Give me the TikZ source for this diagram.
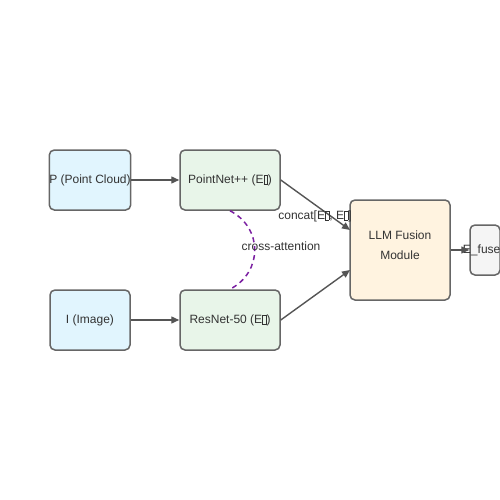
\documentclass[tikz,border=0pt]{standalone}
\usepackage{fontspec}
\setmainfont{Liberation Sans}
\usetikzlibrary{arrows.meta}
\definecolor{bordergray}{HTML}{666666}
\definecolor{arrowgray}{HTML}{555555}
\definecolor{txtgray}{HTML}{333333}
\definecolor{fillblue}{HTML}{E1F5FE}
\definecolor{fillgreen}{HTML}{E8F5E9}
\definecolor{fillorange}{HTML}{FFF3E0}
\definecolor{fillgray}{HTML}{F5F5F5}
\definecolor{attpurple}{HTML}{7B1FA2}
\newcommand\tofubox{{\setlength\fboxsep{0pt}\setlength\fboxrule{0.4pt}\raisebox{-0.5pt}{\fbox{\rule{3.5pt}{0pt}\rule{0pt}{8.5pt}}}}}
\begin{document}
\begin{tikzpicture}[x=1pt,y=1pt,
  box/.style={draw=bordergray, line width=1.5pt, rounded corners=5pt, text=txtgray, font=\fontsize{12}{15}\selectfont, inner sep=0pt, align=center},
  conn/.style={draw=arrowgray, line width=1.4pt, -{Triangle[length=8pt,width=7pt]}},
  lbl/.style={text=txtgray, font=\fontsize{12}{15}\selectfont, inner sep=0pt, align=center}
]
\useasboundingbox (0,0) rectangle (500,-500);
\fill[white] (0,0) rectangle (500,-500);
\node[box, fill=fillblue, minimum width=80pt, minimum height=60pt] (P) at (90,-180) {P (Point Cloud)};
\node[box, fill=fillgreen, minimum width=100pt, minimum height=60pt] (PN) at (230,-180) {PointNet++ (E\tofubox)};
\node[box, fill=fillblue, minimum width=80pt, minimum height=60pt] (I) at (90,-320) {I (Image)};
\node[box, fill=fillgreen, minimum width=100pt, minimum height=60pt] (RN) at (230,-320) {ResNet-50 (E\tofubox)};
\node[box, fill=fillorange, minimum width=100pt, minimum height=100pt] (LLM) at (400,-250) {};
\node[lbl, font=\fontsize{12}{20}\selectfont] (LLMt) at (400,-245.5) {LLM Fusion\\Module};
\node[box, fill=fillgray, minimum width=30pt, minimum height=50pt] (EF) at (485,-250) {};
\node[lbl] (EFt) at (485,-250) {E\_fused};
\draw[conn] (P.east) -- (PN.west);
\draw[conn] (I.east) -- (RN.west);
\draw[conn] (PN.east) -- (350,-230) coordinate (llmin1);
\draw[conn] (RN.east) -- (350,-270) coordinate (llmin2);
\draw[conn] (LLM.east) -- (EF.west);
\draw[attpurple, line width=1.5pt, dash pattern=on 5pt off 4pt] (PN.south) .. controls (263,-228) and (263,-272) .. (RN.north);
\node[lbl] (concat) at (315,-216) {concat[E\tofubox, E\tofubox]};
\node[lbl] (xatt) at (281,-246) {cross-attention};
\end{tikzpicture}
\end{document}
